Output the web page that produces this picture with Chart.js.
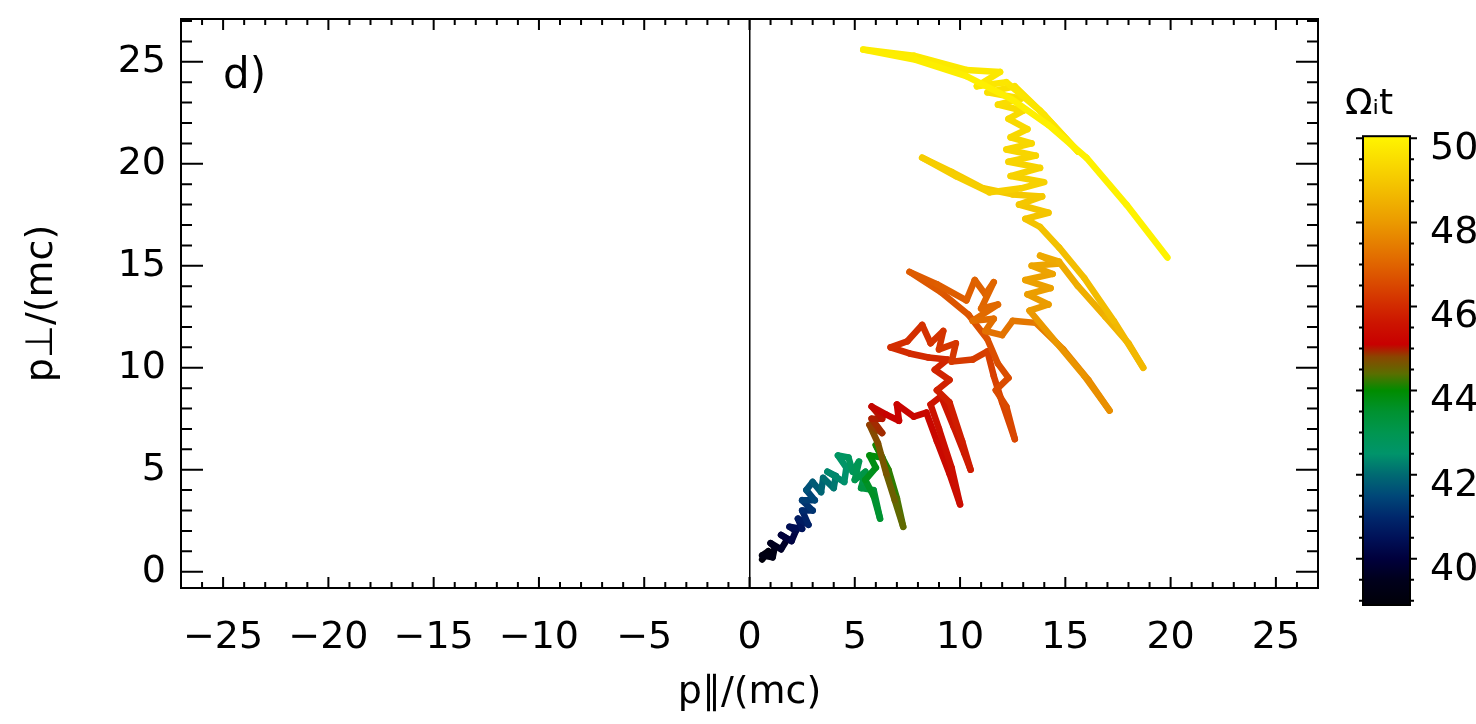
<!DOCTYPE html>
<html>
<head>
<meta charset="utf-8">
<script src="https://cdn.jsdelivr.net/npm/chart.js"></script>
<style>
  html, body { margin: 0; padding: 0; background: #fff; }
  #wrap { position: relative; width: 1476px; height: 724px; }
  #main { position: absolute; left: 0; top: 0; }
  #cbar { position: absolute; left: 1330px; top: 60px; }
</style>
</head>
<body>
<div id="wrap">
  <canvas id="main" width="1476" height="724"></canvas>
  <canvas id="cbar" width="146" height="580"></canvas>
</div>
<script>
// particle path, one line per stretch of time
const pPar = [
  0.6, 0.9, 0.6, 1.1, 1.2, 1.0, 1.5, 1.8, 1.5, 2.0, 2.2, 1.9, 2.5, 2.3, 2.8, 2.5, 3.0, 2.5, 3.1, 2.7, 3.0, 3.4,
  3.5, 4.0, 4.1, 3.7, 4.5, 4.6, 4.2, 4.7, 4.9, 5.2, 5.0, 5.5, 5.3, 5.9, 6.2, 5.9, 5.5, 6.0, 5.7, 6.3, 6.0, 6.6, 7.0, 7.3, 6.9, 6.5, 6.1,
  5.7, 6.3, 5.8, 6.3, 5.8, 6.5, 7.1, 7.0, 7.8, 8.4, 8.9, 9.5, 10.0, 9.6, 9.0, 8.6, 9.1, 9.7, 10.2, 10.5,
  10.1, 9.5, 8.9, 9.5, 8.8, 9.4, 8.5, 7.6, 6.7, 7.5, 8.2, 8.6, 9.2, 9.0, 9.8, 9.6,
  10.6, 11.3, 11.6, 12.0, 12.6, 12.2, 11.7, 12.3, 11.8, 11.3, 10.4, 9.1, 7.6,
  8.9, 10.3, 10.7, 11.2, 11.6, 11.0, 11.8, 10.6, 11.6, 11.2, 12.0, 12.5,
  13.6, 14.9, 16.1, 17.1, 15.9, 14.6, 13.3,
  14.2, 13.2, 14.3, 13.1, 14.4, 13.4, 14.6, 13.8, 14.7,
  15.6, 16.9, 18.0, 18.7, 17.3, 15.9, 14.7, 13.8,
  13.1, 14.2, 12.8, 13.9, 12.5, 11.1, 9.6, 8.2, 9.8, 11.4, 12.9, 14.0, 12.4, 13.8, 12.3, 13.6, 12.2, 13.4, 12.4, 13.2,
  12.3, 13.0, 11.8, 12.9, 11.3, 12.6, 14.0, 15.6, 13.8, 12.2, 10.8, 11.9, 10.3, 7.8, 5.4, 7.9, 10.3, 12.4, 14.2, 16.0, 17.9, 19.85
];
const pPerp = [
  0.6, 1.0, 0.8, 0.7, 1.2, 1.4, 1.1, 1.6, 1.8, 1.5, 2.0, 2.2, 2.1, 2.6, 2.3, 3.0, 3.0, 3.5, 3.5, 4.0, 4.4, 3.9,
  4.6, 4.1, 4.7, 4.9, 4.4, 5.1, 5.7, 5.6, 4.9, 5.4, 4.5, 4.9, 4.1, 4.0, 2.6, 3.7, 4.5, 5.1, 5.7, 5.6, 6.2, 5.0, 3.6, 2.2, 3.5, 4.8, 6.3,
  7.2, 6.8, 7.5, 7.5, 8.1, 7.7, 7.4, 8.2, 7.6, 7.8, 6.4, 4.8, 3.3, 5.1, 7.0, 8.2, 8.6, 7.1, 5.8, 5.0,
  6.4, 8.3, 8.9, 9.4, 9.9, 10.4, 10.5, 10.7, 11.0, 11.3, 12.1, 11.2, 11.8, 10.9, 11.2, 10.3,
  10.4, 10.8, 9.6, 8.3, 6.5, 8.1, 8.9, 9.5, 10.2, 11.4, 12.6, 13.7, 14.7,
  14.1, 13.3, 14.3, 13.6, 14.2, 12.9, 13.1, 12.3, 12.4, 11.8, 11.6, 12.3,
  12.2, 10.9, 9.4, 7.9, 9.6, 11.2, 12.8,
  13.1, 13.6, 13.9, 14.3, 14.6, 15.0, 15.1, 15.5, 15.2,
  14.0, 12.5, 11.2, 10.0, 12.3, 14.4, 15.9, 16.9,
  17.3, 17.6, 18.0, 18.4, 18.5, 18.8, 19.6, 20.3, 19.4, 18.6, 18.8, 19.1, 19.4, 19.8, 20.1, 20.4, 20.7, 21.0, 21.3, 21.7,
  22.2, 22.6, 22.9, 23.2, 23.5, 23.8, 22.4, 20.6, 22.6, 24.0, 23.8, 24.5, 24.6, 25.3, 25.6, 25.1, 24.3, 23.2, 21.9, 20.3, 18.0, 15.4
];
const omegaT = [
  38.9, 39.05, 39.15, 39.25, 39.35, 39.45, 39.6, 39.75, 39.9, 40.05, 40.2, 40.35, 40.5, 40.65, 40.8, 40.95, 41.1, 41.25, 41.4, 41.55, 41.7, 41.85,
  42.0, 42.1, 42.2, 42.3, 42.4, 42.5, 42.6, 42.7, 42.8, 42.9, 43.0, 43.1, 43.2, 43.3, 43.45, 43.55, 43.65, 43.75, 43.85, 43.95, 44.05, 44.15, 44.25, 44.4, 44.5, 44.6, 44.7,
  44.8, 44.88, 44.95, 45.0, 45.05, 45.1, 45.14, 45.18, 45.22, 45.26, 45.31, 45.36, 45.41, 45.46, 45.51, 45.55, 45.59, 45.63, 45.67, 45.71,
  45.75, 45.79, 45.82, 45.86, 45.9, 45.93, 45.96, 46.0, 46.04, 46.07, 46.1, 46.13, 46.16, 46.19, 46.22, 46.26,
  46.3, 46.34, 46.38, 46.43, 46.48, 46.53, 46.56, 46.59, 46.62, 46.66, 46.71, 46.76, 46.82,
  46.86, 46.9, 46.94, 46.98, 47.02, 47.06, 47.1, 47.14, 47.18, 47.22, 47.26, 47.3,
  47.4, 47.5, 47.62, 47.75, 47.85, 47.93, 47.98,
  48.02, 48.06, 48.1, 48.14, 48.18, 48.22, 48.26, 48.3, 48.34,
  48.4, 48.48, 48.56, 48.62, 48.7, 48.76, 48.82, 48.87,
  48.9, 48.93, 48.96, 48.99, 49.01, 49.04, 49.07, 49.1, 49.13, 49.16, 49.19, 49.21, 49.23, 49.25, 49.27, 49.29, 49.31, 49.33, 49.35, 49.38,
  49.42, 49.45, 49.48, 49.51, 49.54, 49.57, 49.6, 49.63, 49.66, 49.69, 49.71, 49.73, 49.76, 49.8, 49.84, 49.87, 49.89, 49.91, 49.93, 49.95, 49.97, 50.0
];

const xTicks = [-25, -20, -15, -10, -5, 0, 5, 10, 15, 20, 25];
const yTicks = [0, 5, 10, 15, 20, 25];
const cbarTicks = [40, 42, 44, 46, 48, 50];

// colour table of the bar
const cbarT = [38.9, 39.5, 40.0, 40.5, 41.0, 41.5, 42.0, 42.5, 43.0, 43.5, 44.0, 44.4, 44.8, 45.1, 45.6, 46.0, 47.0, 48.0, 49.0, 50.05];
const cbarColors = ['#000008', '#00001c', '#00003c', '#001158', '#00286c', '#004878', '#006a72', '#00946a', '#009650', '#009230',
  '#008c00', '#5a6e00', '#8a4600', '#c80000', '#cc1400', '#d22a00', '#e06400', '#eb9a00', '#f5c800', '#fff500'];

Chart.defaults.font.family = "'DejaVu Sans'";
Chart.defaults.color = '#000';

function hexRgb(h) {
  return [parseInt(h.slice(1, 3), 16), parseInt(h.slice(3, 5), 16), parseInt(h.slice(5, 7), 16)];
}

function timeColor(t) {
  if (t <= cbarT[0]) return cbarColors[0];
  for (let i = 1; i < cbarT.length; i++) {
    if (t <= cbarT[i]) {
      const f = (t - cbarT[i - 1]) / (cbarT[i] - cbarT[i - 1]);
      const a = hexRgb(cbarColors[i - 1]), b = hexRgb(cbarColors[i]);
      return 'rgb(' + a.map((c, k) => Math.round(c + (b[k] - c) * f)).join(',') + ')';
    }
  }
  return cbarColors[cbarColors.length - 1];
}

// box round the plot with inward ticks on all four sides
const frameTicks = {
  id: 'frameTicks',
  afterDraw(chart) {
    const { ctx, chartArea: a, scales: { x, y } } = chart;
    ctx.save();
    ctx.strokeStyle = '#000';
    ctx.lineWidth = 2;
    ctx.strokeRect(a.left, a.top, a.right - a.left, a.bottom - a.top);
    ctx.beginPath();
    for (let v = Math.ceil(x.min); v <= x.max; v++) {
      const px = x.getPixelForValue(v);
      const len = v % 5 === 0 ? 11 : 6;
      ctx.moveTo(px, a.bottom); ctx.lineTo(px, a.bottom - len);
      ctx.moveTo(px, a.top); ctx.lineTo(px, a.top + len);
    }
    for (let v = Math.ceil(y.min); v <= y.max; v++) {
      const py = y.getPixelForValue(v);
      const len = v % 5 === 0 ? 22 : 11;
      ctx.moveTo(a.left, py); ctx.lineTo(a.left + len, py);
      ctx.moveTo(a.right, py); ctx.lineTo(a.right - len, py);
    }
    ctx.stroke();
    ctx.restore();
  }
};

const panelLabel = {
  id: 'panelLabel',
  afterDraw(chart) {
    const { ctx, chartArea: a } = chart;
    ctx.save();
    ctx.font = "42px 'DejaVu Sans'";
    ctx.fillStyle = '#000';
    ctx.textBaseline = 'alphabetic';
    ctx.fillText('d)', a.left + 42, a.top + 69);
    ctx.restore();
  }
};

new Chart(document.getElementById('main'), {
  type: 'scatter',
  data: {
    datasets: [{
      data: pPar.map((x, i) => ({ x: x, y: pPerp[i] })),
      showLine: true,
      borderWidth: 6.5,
      borderCapStyle: 'round',
      borderJoinStyle: 'round',
      pointRadius: 0,
      borderColor: timeColor(omegaT[0]),
      segment: {
        borderColor: c => timeColor((omegaT[c.p0DataIndex] + omegaT[c.p1DataIndex]) / 2)
      }
    }]
  },
  options: {
    responsive: false,
    animation: false,
    layout: { padding: { top: 19, right: 158, left: 0, bottom: 0 } },
    plugins: { legend: { display: false }, tooltip: { enabled: false } },
    scales: {
      x: {
        type: 'linear',
        min: -27,
        max: 27,
        afterBuildTicks: s => { s.ticks = xTicks.map(v => ({ value: v })); },
        afterFit: s => { s.height = 136; s.paddingLeft = 0; s.paddingRight = 0; },
        grid: {
          drawTicks: false,
          lineWidth: 1.5,
          color: c => (c.tick && c.tick.value === 0 ? '#000' : 'rgba(0,0,0,0)')
        },
        border: { display: false },
        ticks: {
          font: { size: 38 },
          padding: 27,
          maxRotation: 0,
          autoSkip: false,
          callback: v => (v < 0 ? '\u2212' + Math.abs(v) : String(v))
        },
        title: { display: true, text: 'p\u2225/(mc)', font: { size: 38 }, padding: { top: 0, bottom: 8 } }
      },
      y: {
        type: 'linear',
        min: -0.8,
        max: 27.1,
        afterBuildTicks: s => { s.ticks = yTicks.map(v => ({ value: v })); },
        afterFit: s => { s.width = 181; s.paddingTop = 0; s.paddingBottom = 0; },
        grid: { display: false, drawTicks: false },
        border: { display: false },
        ticks: { font: { size: 38 }, padding: 15 },
        title: { display: true, text: 'p\u22a5/(mc)', font: { size: 38 }, padding: { top: 19, bottom: 0 } }
      }
    }
  },
  plugins: [frameTicks, panelLabel]
});

// colour bar
const cbarFrame = {
  id: 'cbarFrame',
  afterDraw(chart) {
    const { ctx, chartArea: a, scales: { y } } = chart;
    ctx.save();
    ctx.strokeStyle = '#000';
    ctx.lineWidth = 2;
    ctx.strokeRect(a.left, a.top, a.right - a.left, a.bottom - a.top);
    ctx.beginPath();
    for (let k = 78; k <= 100; k++) {
      const v = k / 2;
      const py = y.getPixelForValue(v);
      const len = cbarTicks.includes(v) ? 7 : 4;
      ctx.moveTo(a.left, py); ctx.lineTo(a.left - len, py);
      ctx.moveTo(a.right, py); ctx.lineTo(a.right + len, py);
    }
    ctx.stroke();
    ctx.restore();
  }
};

const tLo = cbarT[0], tHi = cbarT[cbarT.length - 1];

new Chart(document.getElementById('cbar'), {
  type: 'bar',
  data: {
    labels: [''],
    datasets: [{
      data: [[tLo, tHi]],
      barPercentage: 1,
      categoryPercentage: 1,
      borderWidth: 0,
      yAxisID: 'y',
      backgroundColor: c => {
        const chart = c.chart;
        if (!chart.chartArea) return null;
        const ys = chart.scales.y;
        const g = chart.ctx.createLinearGradient(0, ys.getPixelForValue(tLo), 0, ys.getPixelForValue(tHi));
        cbarT.forEach((t, i) => g.addColorStop((t - tLo) / (tHi - tLo), cbarColors[i]));
        return g;
      }
    }]
  },
  options: {
    responsive: false,
    animation: false,
    layout: { padding: { left: 15, right: 0, top: 0, bottom: 35 } },
    plugins: {
      legend: { display: false },
      tooltip: { enabled: false },
      title: {
        display: true,
        text: '\u03a9\u1d62t',
        align: 'start',
        color: '#000',
        font: { size: 36, weight: 'normal' },
        padding: { top: 23, bottom: 10 }
      }
    },
    scales: {
      x: { display: false },
      y: {
        type: 'linear',
        position: 'right',
        min: tLo,
        max: tHi,
        afterBuildTicks: s => { s.ticks = cbarTicks.map(v => ({ value: v })); },
        afterFit: s => { s.width = 66; s.paddingTop = 0; s.paddingBottom = 0; },
        grid: { display: false, drawTicks: false },
        border: { display: false },
        ticks: { font: { size: 38 }, padding: 20, labelOffset: 11 }
      },
      yl: {
        type: 'linear',
        position: 'left',
        min: tLo,
        max: tHi,
        afterFit: s => { s.width = 18; s.paddingTop = 0; s.paddingBottom = 0; },
        grid: { display: false, drawTicks: false },
        border: { display: false },
        ticks: { display: false }
      }
    }
  },
  plugins: [cbarFrame]
});
</script>
</body>
</html>
